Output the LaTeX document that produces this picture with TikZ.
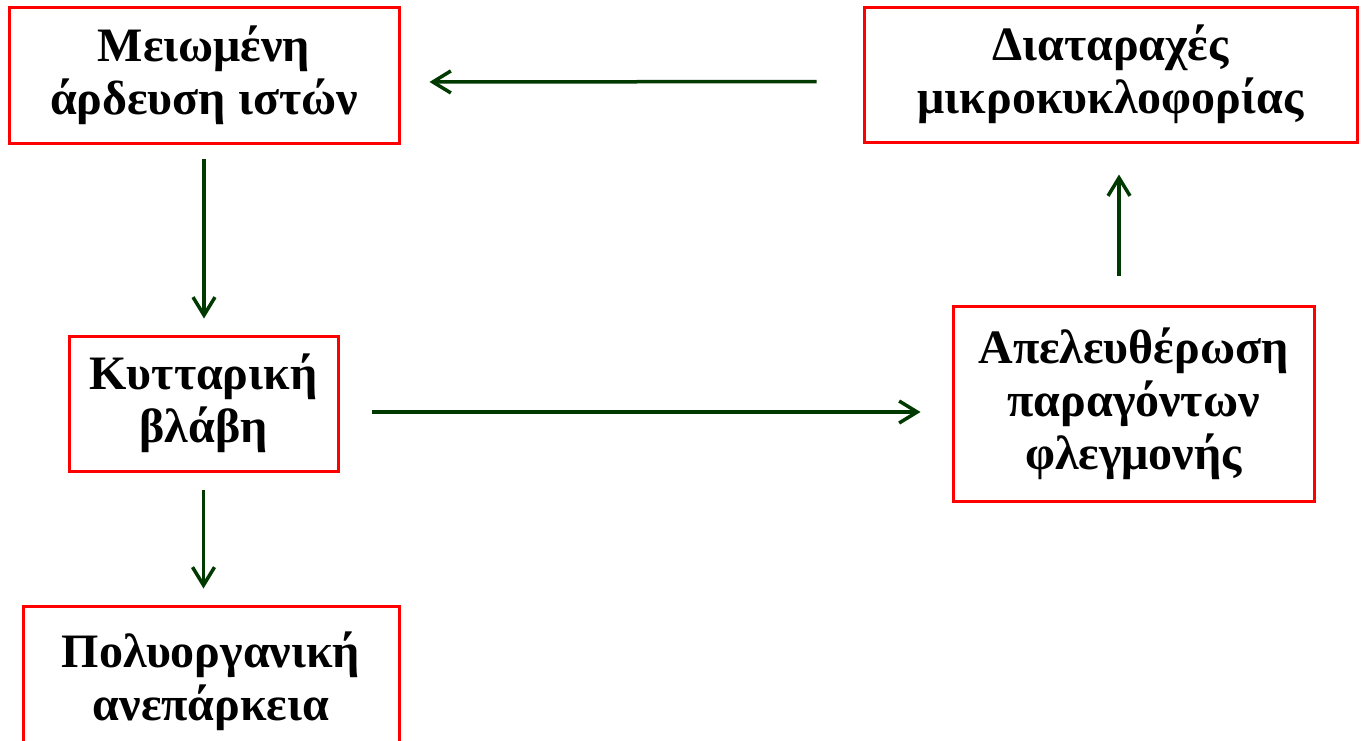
\documentclass[tikz,border=0pt]{standalone}
\usepackage{fontspec}
\setmainfont{Liberation Serif}
\usetikzlibrary{arrows.meta}
\definecolor{boxred}{RGB}{255,0,0}
\definecolor{arrgreen}{RGB}{0,58,0}
\tikzset{
  box/.style={draw=boxred, line width=3pt, fill=white, align=center,
    inner sep=0pt, font=\fontsize{48}{53}\selectfont\bfseries},
  arr/.style={draw=arrgreen, line width=3.5pt,
    -{Straight Barb[length=18pt,width=22pt]}}
}
\begin{document}
\begin{tikzpicture}[x=1pt,y=-1pt]
\useasboundingbox (0,0) rectangle (1361,740);
\clip (0,0) rectangle (1361,740);
\fill[white] (0,0) rectangle (1361,740);

% boxes
\node[box, minimum width=390pt, minimum height=136pt] (b1) at (204,75)
  {Μειωμένη\\άρδευση ιστών};
\node[box, minimum width=493pt, minimum height=135pt] (b2) at (1110.5,74.5)
  {Διαταραχές\\μικροκυκλοφορίας};
\node[box, minimum width=269pt, minimum height=135pt] (b3) at (203.5,403.5)
  {Κυτταρική\\βλάβη};
\node[box, minimum width=361pt, minimum height=195pt] (b4) at (1133.5,403.5)
  {Απελευθέρωση\\παραγόντων\\φλεγμονής};
\node[box, minimum width=376pt, minimum height=150pt] (b5) at (211,681)
  {Πολυοργανική\\ανεπάρκεια};

% connectors (canvas shifts: negative y is downward)
\draw[arr, shorten <=46pt, shorten >=29pt]
  ([yshift=-7pt]b2.west) -- ([yshift=-7pt]b1.east);
\draw[arr, shorten <=14pt, shorten >=16pt]
  (b1.south) -- (b1.south |- b3.north);
\draw[arr, shorten <=32pt, shorten >=31pt]
  ([yshift=-8.5pt]b3.east) -- ([yshift=-8.5pt]b4.west);
\draw[arr, shorten <=29pt, shorten >=31pt]
  ([xshift=-14.5pt]b4.north) -- ([xshift=-14.5pt]b4.north |- b2.south);
\draw[arr, shorten <=17pt, shorten >=16pt]
  (b3.south) -- (b3.south |- b5.north);
\end{tikzpicture}
\end{document}
